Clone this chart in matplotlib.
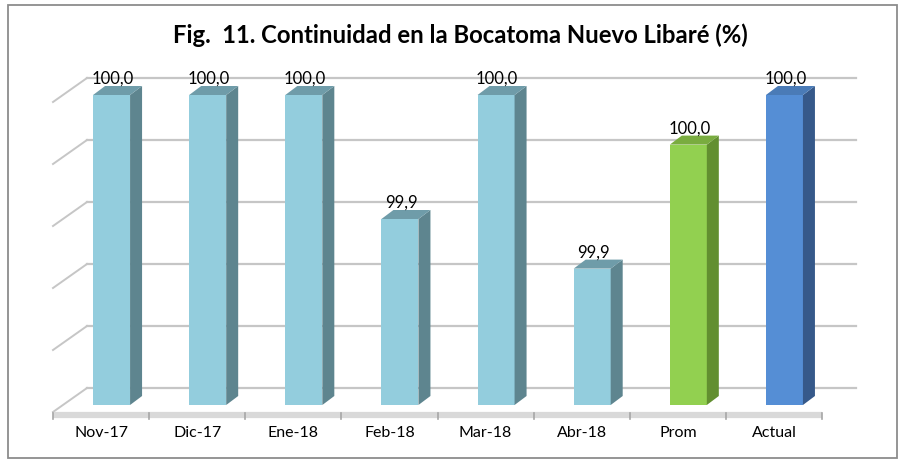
import matplotlib
matplotlib.use("Agg")
import matplotlib.pyplot as plt
from matplotlib.patches import Polygon, Rectangle
from matplotlib.transforms import offset_copy

plt.rcParams['font.family'] = ['Lato', 'DejaVu Sans']

# ---- data ----
categories = ["Nov-17", "Dic-17", "Ene-18", "Feb-18", "Mar-18", "Abr-18", "Prom", "Actual"]
values = [100.0, 100.0, 100.0, 99.90, 100.0, 99.86, 99.96, 100.0]
labels = ["100,0", "100,0", "100,0", "99,9", "100,0", "99,9", "100,0", "100,0"]
title = "Fig.  11. Continuidad en la Bocatoma Nuevo Libaré (%)"
y_min, y_max, y_step = 99.75, 100.0, 0.05

# colours per bar: (front, side, top)
blue_light = ("#93CDDD", "#5E858F", "#6F9CA9")
green = ("#92D050", "#628F30", "#79AC3F")
blue = ("#558ED5", "#36598A", "#4A7BB7")
bar_colors = [blue_light] * 6 + [green, blue]

W, H = 905, 461
fig = plt.figure(figsize=(W / 100, H / 100), dpi=100)

# axes = plane of the bar front faces (pixel box)
left_px, right_px = 63.5, 832.5
bottom_px, top_px = 405, 95
ax = fig.add_axes([left_px / W, (H - bottom_px) / H,
                   (right_px - left_px) / W, (bottom_px - top_px) / H])
ax.set_xlim(-0.5, len(categories) - 0.5)
ax.set_ylim(y_min, y_max)
ax.axis("off")

# 3D offsets in pixels
back = offset_copy(ax.transData, fig, x=23.5, y=17, units="dots")
front = offset_copy(ax.transData, fig, x=-10.5, y=-7, units="dots")

n = len(categories)
grid_vals = [y_min + k * y_step for k in range(6)]
for v in grid_vals:
    ax.plot([-0.5, n - 0.5], [v, v], color="#C6C6C6", lw=1.6,
            transform=back, clip_on=False, zorder=1)
    # diagonal on the left side wall
    x0, y0 = front.transform((-0.5, v))
    x1, y1 = back.transform((-0.5, v))
    ax.plot([x0, x1], [y0, y1], color="#C6C6C6", lw=1.4,
            transform=None, clip_on=False, zorder=1)

# floor edge (front)
ax.plot([-0.5, n - 0.5], [y_min, y_min], color="#D9D9D9", lw=4.5,
        transform=offset_copy(ax.transData, fig, x=-10.5, y=-9.5, units="dots"),
        clip_on=False, zorder=1, solid_capstyle="butt")
tick_tr = offset_copy(ax.transData, fig, x=-10.5, y=-8, units="dots")
for k in range(n + 1):
    xx = k - 0.5
    px, py = tick_tr.transform((xx, y_min))
    ax.plot([px, px], [py, py - 6], color="#A6A6A6", lw=1.2,
            transform=None, clip_on=False, zorder=2)

# bars
bw = 0.385
dx_px, dy_px = 12, 9
for i, (v, cols) in enumerate(zip(values, bar_colors)):
    xl, xr = i - bw / 2, i + bw / 2
    p = [ax.transData.transform(pt) for pt in [(xl, y_min), (xr, y_min), (xr, v), (xl, v)]]
    (x_l, y_b), (x_r, _), (_, y_t), _ = p
    front_face = Rectangle((x_l, y_b), x_r - x_l, y_t - y_b, transform=None,
                           facecolor=cols[0], edgecolor="none", zorder=3, clip_on=False)
    side = Polygon([(x_r, y_b), (x_r + dx_px, y_b + dy_px), (x_r + dx_px, y_t + dy_px), (x_r, y_t)],
                   closed=True, transform=None, facecolor=cols[1], edgecolor="none",
                   zorder=3, clip_on=False)
    top = Polygon([(x_l, y_t), (x_r, y_t), (x_r + dx_px, y_t + dy_px), (x_l + dx_px, y_t + dy_px)],
                  closed=True, transform=None, facecolor=cols[2], edgecolor="none",
                  zorder=3, clip_on=False)
    ax.add_artist(front_face)
    ax.add_artist(side)
    ax.add_artist(top)
    ax.text(i, v, labels[i], transform=offset_copy(ax.transData, fig, x=1, y=11, units="dots"),
            ha="center", va="baseline", fontsize=12, color="#000000", zorder=5)

# category labels
lab_tr = offset_copy(ax.transData, fig, x=-10.5, y=-28, units="dots")
for i, c in enumerate(categories):
    ax.text(i, y_min, c, transform=lab_tr, ha="center", va="center",
            fontsize=11.5, color="#000000", clip_on=False)

fig.text(460 / W, 1 - 35 / H, title, ha="center", va="center",
         fontsize=17.2, fontweight="bold", color="#000000")

# chart border
fig.add_artist(Rectangle((8 / W, 1 - 458 / H), 889 / W, 453 / H, transform=fig.transFigure,
                         facecolor="none", edgecolor="#8C8C8C", lw=1.3))

fig.savefig("out.png", dpi=100)
